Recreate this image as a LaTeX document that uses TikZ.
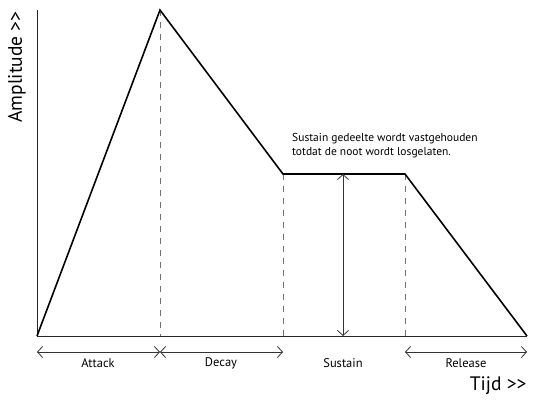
\documentclass[tikz,border=0pt]{standalone}
\usepackage{fontspec}
\setmainfont{PT Sans}
\usetikzlibrary{arrows.meta,positioning}

\begin{document}
\begin{tikzpicture}[
    x=1pt, y=-1pt,
    axis/.style={draw=black!85, line width=0.9pt},
    envelope/.style={draw=black, line width=1.6pt, line join=miter},
    guide/.style={draw=black!55, line width=0.9pt, dash pattern=on 6pt off 6pt},
    span/.style={{Straight Barb[length=5pt,width=11pt]}-{Straight Barb[length=5pt,width=11pt]}, draw=black!80, line width=0.8pt},
    phase/.style={font=\fontsize{12.5}{14}\selectfont},
    note/.style={font=\fontsize{11.5}{14.5}\selectfont},
    title/.style={font=\fontsize{19.5}{22}\selectfont}
]
\useasboundingbox (0,0) rectangle (536,400);

% Envelope points
\coordinate (start) at (37,336);
\coordinate (peak) at (160,10);
\coordinate (hold) at (283,174);
\coordinate (free) at (405,174);
\coordinate (stop) at (527,336);
\coordinate (top) at (37,10);
\coordinate (mid) at (343,174);

% Feet on the time axis
\coordinate (peakfoot) at (160,336);
\coordinate (holdfoot) at (283,336);
\coordinate (freefoot) at (405,336);
\coordinate (midfoot) at (343,336);

% Axes
\draw[axis] (top) -- (start) -- (stop);

% Guides
\foreach \a/\b in {peak/peakfoot, hold/holdfoot, free/freefoot} {
    \draw[guide] (\a) -- (\b);
}

% Envelope
\draw[envelope] (start) -- (peak) -- (hold) -- (free) -- (stop);

% Sustain level
\draw[span] (mid) -- (midfoot);

% Phase spans
\coordinate (a0) at (37,352);
\coordinate (a1) at (160,352);
\coordinate (a2) at (283,352);
\coordinate (a3) at (405,352);
\coordinate (a4) at (527,352);
\foreach \i/\j in {a0/a1, a1/a2, a3/a4} {
    \draw[span] (\i) -- (\j);
}

% Phase labels
\node[phase] (attack) at (98,363) {Attack};
\node[phase] (decay) at (221,363) {Decay};
\node[phase] (sustain) at (343,363) {Sustain};
\node[phase] (release) at (466,363) {Release};

% Axis titles
\node[title, rotate=90, anchor=east] (amp) at (17,8) {Amplitude >{}>};
\node[title, anchor=east] (time) at (530,386) {Tijd >{}>};

% Note
\node[note, anchor=north west, align=left, inner sep=0pt] (note) at (292,133) {Sustain gedeelte wordt vastgehouden\\totdat de noot wordt losgelaten.};

\end{tikzpicture}
\end{document}
